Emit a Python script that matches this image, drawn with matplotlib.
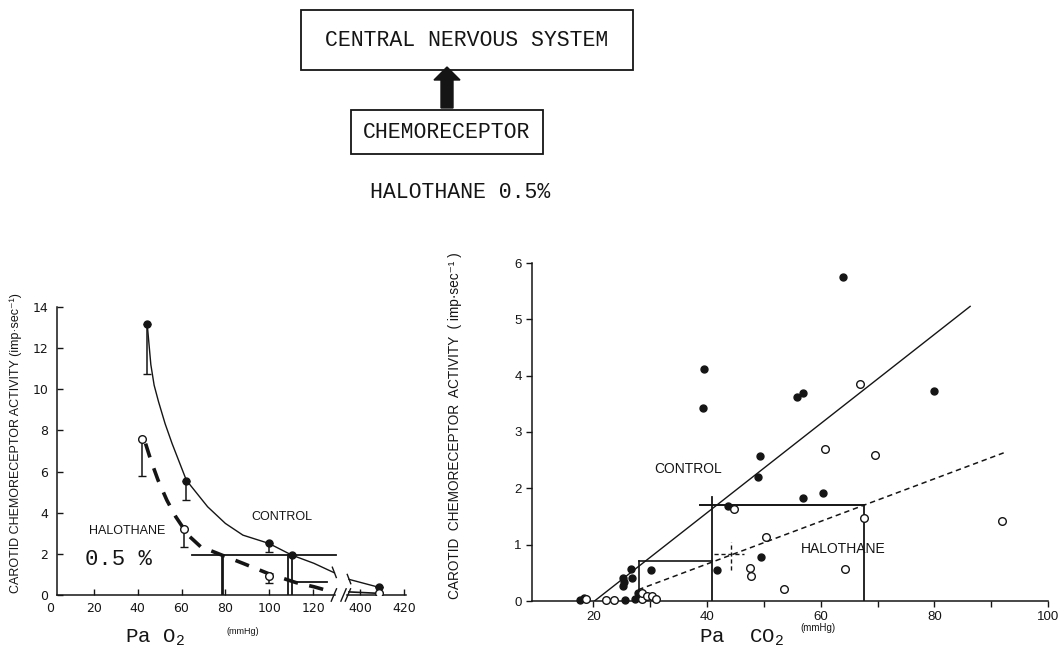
import numpy as np
import matplotlib
matplotlib.use("Agg")
import matplotlib.pyplot as plt
from matplotlib.patches import Rectangle, Polygon

# ---------------- data: left panel (Pa O2) ----------------
po2_ctrl_x = [44.1, 62.2, 99.8, 110.3, 408.8]
po2_ctrl_y = [13.16, 5.55, 2.51, 1.94, 0.37]
po2_ctrl_err = [2.43, 0.91, 0.44, 0.0, 0.0]

po2_halo_x = [42.0, 61.1, 99.8, 408.8]
po2_halo_y = [7.57, 3.20, 0.92, 0.08]
po2_halo_err = [1.78, 0.85, 0.32, 0.0]

po2_ctrl_curve_x = [44.4, 46.0, 47.5, 49.5, 52.5, 55.7, 62.2, 71.9, 80.0, 88.0, 99.8, 110.3, 120.4, 129.7]
po2_ctrl_curve_y = [13.1, 11.2, 10.2, 9.4, 8.33, 7.36, 5.58, 4.29, 3.48, 2.91, 2.51, 1.94, 1.54, 1.08]
po2_ctrl_tail_x = [395.0, 408.8]
po2_ctrl_tail_y = [0.76, 0.37]

po2_halo_curve_x = [43.6, 46.0, 49.3, 53.3, 57.4, 63.0, 68.7, 78.4, 88.0, 99.4, 112.3, 120.4, 128.4]
po2_halo_curve_y = [7.36, 6.55, 5.58, 4.61, 3.80, 2.91, 2.35, 1.94, 1.54, 1.05, 0.60, 0.40, 0.16]
po2_halo_tail_x = [395.0, 408.8]
po2_halo_tail_y = [0.15, 0.08]

po2_ticks = [0, 20, 40, 60, 80, 100, 120, 400, 420]
po2_yticks = [0, 2, 4, 6, 8, 10, 12, 14]

# ---------------- data: right panel (Pa CO2) ----------------
pco2_ctrl_x = [64.0, 39.5, 39.3, 55.8, 56.9, 79.9, 49.3, 48.9, 56.8, 60.4, 43.7, 49.5,
               41.7, 30.2, 26.6, 26.8, 25.3, 25.3, 25.4, 17.6, 18.3, 25.6, 27.3, 27.9]
pco2_ctrl_y = [5.75, 4.11, 3.43, 3.63, 3.69, 3.73, 2.57, 2.21, 1.83, 1.92, 1.68, 0.78,
               0.55, 0.55, 0.57, 0.41, 0.40, 0.26, 0.33, 0.02, 0.06, 0.02, 0.03, 0.15]

pco2_halo_x = [67.0, 60.8, 69.5, 91.9, 67.7, 44.7, 50.3, 47.6, 47.7, 64.2, 53.6,
               18.7, 22.2, 23.7, 28.5, 28.6, 29.4, 30.3, 31.0]
pco2_halo_y = [3.85, 2.69, 2.60, 1.42, 1.47, 1.63, 1.14, 0.59, 0.44, 0.56, 0.22,
               0.04, 0.02, 0.02, 0.04, 0.14, 0.08, 0.08, 0.03]

pco2_ctrl_line_x = [20.2, 86.3]
pco2_ctrl_line_y = [0.0, 5.23]
pco2_halo_line_x = [27.9, 92.2]
pco2_halo_line_y = [0.20, 2.63]

pco2_xticks = [20, 40, 60, 80, 100]
pco2_xminor = [30, 50, 70, 90]
pco2_yticks = [0, 1, 2, 3, 4, 5, 6]

INK = "#151515"
plt.rcParams["mathtext.fontset"] = "custom"
plt.rcParams["mathtext.rm"] = "Liberation Mono"
plt.rcParams["mathtext.it"] = "Liberation Mono"
MONO = ["Liberation Mono", "DejaVu Sans Mono"]
SANS = ["Liberation Sans", "DejaVu Sans"]

W, H = 1063, 660
fig = plt.figure(figsize=(W / 100, H / 100), dpi=100)

# ---------------- top diagram (pixel coordinates) ----------------
ax0 = fig.add_axes([0, 0, 1, 1])
ax0.set_xlim(0, W)
ax0.set_ylim(H, 0)
ax0.axis("off")
ax0.add_patch(Rectangle((301, 10), 332, 60, fill=False, lw=1.3, ec=INK))
ax0.text(467, 41, "CENTRAL NERVOUS SYSTEM", family=MONO, fontsize=15.5,
         ha="center", va="center", color=INK)
ax0.add_patch(Polygon([(441, 108), (453, 108), (453, 80), (460, 80), (447, 67),
                       (434, 80), (441, 80)], closed=True, fc=INK, ec=INK))
ax0.add_patch(Rectangle((351, 110), 192, 44, fill=False, lw=1.3, ec=INK))
ax0.text(447, 133, "CHEMORECEPTOR", family=MONO, fontsize=15.5,
         ha="center", va="center", color=INK)
ax0.text(460, 193, "HALOTHANE 0.5%", family=MONO, fontsize=15.5,
         ha="center", va="center", color=INK)

# ---------------- left panel ----------------
GAP_LO, SHIFT = 132.0, 258.6


def fwd(x):
    x = np.asarray(x, dtype=float)
    return np.where(x <= GAP_LO, x, np.where(x >= GAP_LO + SHIFT, x - SHIFT, GAP_LO))


def inv(y):
    y = np.asarray(y, dtype=float)
    return np.where(y <= GAP_LO, y, y + SHIFT)


axL = fig.add_axes([50 / W, (H - 595) / H, 356 / W, 288 / H])
axL.set_xscale("function", functions=(fwd, inv))
axL.set_xlim(0, 421)
axL.set_ylim(0, 14)
axL.patch.set_alpha(0)
for s in ["top", "right", "bottom"]:
    axL.spines[s].set_visible(False)
axL.spines["left"].set_position(("data", 3))
axL.spines["left"].set_color(INK)
axL.spines["left"].set_linewidth(1.1)
axL.set_xticks(po2_ticks)
axL.set_yticks(po2_yticks)
axL.tick_params(direction="in", length=4, width=1, labelsize=9, colors=INK)
axL.tick_params(axis="y", pad=6)
axL.tick_params(axis="x", pad=5)
axL.xaxis.get_major_ticks()[0].tick1line.set_visible(False)

# broken x axis
axL.plot([3, 130], [0, 0], color=INK, lw=1.1, clip_on=False)
axL.plot([394, 421], [0, 0], color=INK, lw=1.1, clip_on=False)
for xb in [129.5, 392.5, 394.5]:
    axL.plot([xb - 1.2, xb + 1.2], [-0.3, 0.3], color=INK, lw=1.0, clip_on=False)

# curves
axL.plot(po2_ctrl_curve_x, po2_ctrl_curve_y, color=INK, lw=1.0)
axL.plot(po2_ctrl_tail_x, po2_ctrl_tail_y, color=INK, lw=1.0)
axL.plot([128.8, 130.6], [1.35, 0.85], color=INK, lw=1.0)
axL.plot([394.2, 395.8], [1.0, 0.55], color=INK, lw=1.0)
axL.plot(po2_halo_curve_x, po2_halo_curve_y, color=INK, lw=2.6, dashes=(4, 3.2))
axL.plot(po2_halo_tail_x, po2_halo_tail_y, color=INK, lw=1.2)

# data points with lower error bars
axL.errorbar(po2_ctrl_x, po2_ctrl_y, yerr=[po2_ctrl_err, [0] * len(po2_ctrl_err)],
             fmt="o", ms=5, color=INK, ecolor=INK, elinewidth=1.1, capsize=3, zorder=5)
axL.errorbar(po2_halo_x, po2_halo_y, yerr=[po2_halo_err, [0] * len(po2_halo_err)],
             fmt="o", ms=5.5, mfc="white", mec=INK, mew=1.0, color=INK, ecolor=INK,
             elinewidth=1.1, capsize=3, zorder=5)

# reference lines
axL.plot([64.6, 130.5], [1.94, 1.94], color=INK, lw=1.3)
axL.plot([78.4, 78.4], [0, 1.94], color=INK, lw=2.0)
axL.plot([108.6, 108.6], [0, 1.94], color=INK, lw=1.3)
axL.plot([110.4, 110.4], [0, 1.94], color=INK, lw=1.3)
axL.plot([113.0, 126.5], [0.62, 0.62], color=INK, lw=1.3)

axL.text(106, 3.8, "CONTROL", family=SANS, fontsize=9, ha="center", va="center", color=INK)
axL.text(35, 3.12, "HALOTHANE", family=SANS, fontsize=9, ha="center", va="center", color=INK)
axL.text(31, 1.72, "0.5 %", family=MONO, fontsize=16, ha="center", va="center", color=INK)

fig.text(155 / W, 1 - 638 / H, "Pa O$_{2}$", family=MONO, fontsize=15,
         ha="center", va="center", color=INK)
fig.text(243 / W, 1 - 631 / H, "(mmHg)", family=SANS, fontsize=6.5,
         ha="center", va="center", color=INK)
fig.text(16 / W, 1 - 443 / H, "CAROTID CHEMORECEPTOR ACTIVITY (imp·sec⁻¹)",
         family=SANS, fontsize=9, rotation=90, ha="center", va="center", color=INK)

# ---------------- right panel ----------------
axR = fig.add_axes([532 / W, (H - 601) / H, 516 / W, 338 / H])
axR.set_xlim(9.2, 100)
axR.set_ylim(0, 6)
axR.patch.set_alpha(0)
for s in ["top", "right"]:
    axR.spines[s].set_visible(False)
for s in ["left", "bottom"]:
    axR.spines[s].set_color(INK)
    axR.spines[s].set_linewidth(1.1)
axR.set_xticks(pco2_xticks)
axR.set_xticks(pco2_xminor, minor=True)
axR.set_yticks(pco2_yticks)
axR.tick_params(which="both", direction="out", length=4, width=1, labelsize=9.5,
                colors=INK)
for lab in axR.get_xticklabels() + axR.get_yticklabels():
    lab.set_family(SANS)

axR.plot(pco2_ctrl_line_x, pco2_ctrl_line_y, color=INK, lw=1.0)
axR.plot(pco2_halo_line_x, pco2_halo_line_y, color=INK, lw=1.1, dashes=(3.5, 2.5))

# reference boxes
axR.plot([40.8, 40.8], [0, 1.85], color=INK, lw=1.3)
axR.plot([38.8, 67.7], [1.70, 1.70], color=INK, lw=1.4)
axR.plot([67.7, 67.7], [0, 1.70], color=INK, lw=1.3)
axR.plot([28.0, 28.0], [0, 0.71], color=INK, lw=1.2)
axR.plot([28.0, 40.8], [0.71, 0.71], color=INK, lw=1.2)
axR.plot([44.2, 44.2], [0.55, 1.05], color=INK, lw=1.0, dashes=(3, 2))
axR.plot([41.2, 46.5], [0.83, 0.83], color=INK, lw=1.0, dashes=(3, 2))

axR.plot(pco2_ctrl_x, pco2_ctrl_y, "o", ms=5, color=INK, zorder=5, clip_on=False)
axR.plot(pco2_halo_x, pco2_halo_y, "o", ms=5.5, mfc="white", mec=INK, mew=1.0,
         zorder=5, clip_on=False)

axR.text(36.7, 2.34, "CONTROL", family=SANS, fontsize=10, ha="center", va="center", color=INK)
axR.text(63.9, 0.93, "HALOTHANE", family=SANS, fontsize=10, ha="center", va="center", color=INK)

fig.text(742 / W, 1 - 638 / H, "Pa  CO$_{2}$", family=MONO, fontsize=15,
         ha="center", va="center", color=INK)
fig.text(818 / W, 1 - 628 / H, "(mmHg)", family=SANS, fontsize=7,
         ha="center", va="center", color=INK)
fig.text(455 / W, 1 - 426 / H, "CAROTID  CHEMORECEPTOR  ACTIVITY  ( imp·sec⁻¹ )",
         family=SANS, fontsize=9.8, rotation=90, ha="center", va="center", color=INK)

fig.savefig("out.png", dpi=100, facecolor="white")
